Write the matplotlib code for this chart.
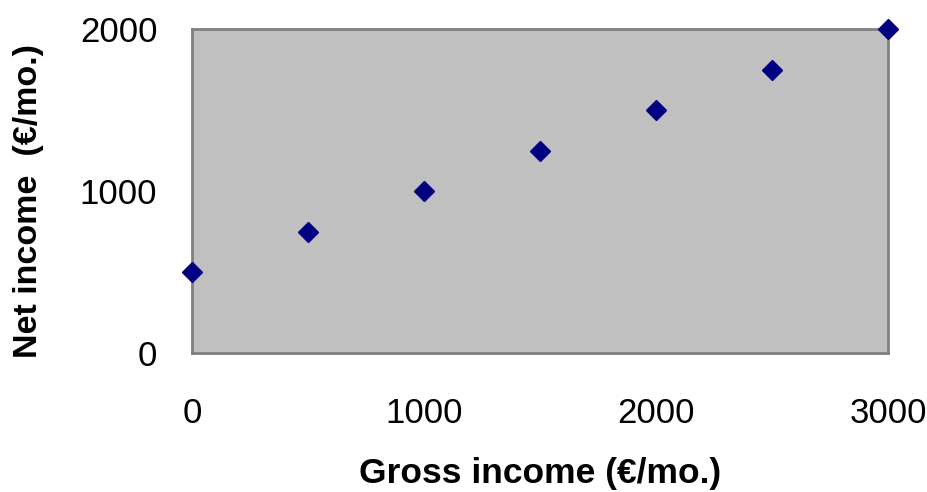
import matplotlib
matplotlib.use("Agg")
import matplotlib.pyplot as plt

gross = [0, 500, 1000, 1500, 2000, 2500, 3000]
net = [500, 750, 1000, 1250, 1500, 1750, 2000]
xticks = [0, 1000, 2000, 3000]
yticks = [0, 1000, 2000]

plt.rcParams['font.family'] = ['Liberation Sans', 'DejaVu Sans']

fig = plt.figure(figsize=(9.28, 4.92), dpi=100)
ax = fig.add_axes([0.2069, 0.2825, 0.75, 0.6585])
ax.set_facecolor('#C0C0C0')
ax.plot(gross, net, linestyle='none', marker='D', markersize=10,
        color='#000080', clip_on=False, zorder=5)
ax.set_xlim(0, 3000)
ax.set_ylim(0, 2000)
ax.set_xticks(xticks)
ax.set_yticks(yticks)
ax.tick_params(length=0, labelsize=25, colors='black')
ax.tick_params(axis='x', pad=32)
ax.tick_params(axis='y', pad=25)
for s in ax.spines.values():
    s.set_color('#808080')
    s.set_linewidth(2)
ax.set_xlabel('Gross income (€/mo.)', fontsize=25.5, fontweight='bold')
ax.set_ylabel('Net income  (€/mo.)', fontsize=24.5, fontweight='bold')
ax.xaxis.set_label_coords(0.5, -0.322)
ax.yaxis.set_label_coords(-0.212, 0.47)
fig.savefig('out.png', dpi=100)
